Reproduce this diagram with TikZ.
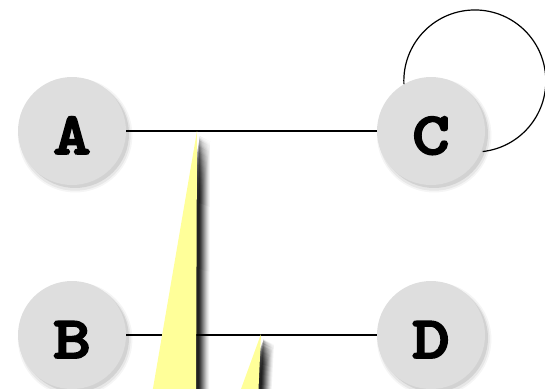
\documentclass[tikz,border=0pt]{standalone}
\usepackage{fontspec}
\newfontfamily\courbold[FakeBold=3,FakeStretch=1.2]{lmmonolt10-bold.otf}
\usetikzlibrary{shadows}
\tikzset{
  vert/.style={circle, minimum size=108pt, inner sep=0pt, fill=nodegray,
    font=\courbold\fontsize{60}{60}\selectfont,
    text height=46pt, text depth=0pt,
    general shadow={fill=black, opacity=0.04, shadow xshift=3pt, shadow yshift=-4pt, shadow scale=1.06},
    general shadow={fill=black, opacity=0.06, shadow xshift=3pt, shadow yshift=-4pt, shadow scale=1.03},
    general shadow={fill=black, opacity=0.09, shadow xshift=3pt, shadow yshift=-3pt}},
  edge/.style={draw=black, line width=1.2pt},
  callout/.style={fill=calloutyellow},
  cshadow/.style={fill=black, opacity=#1}
}
\definecolor{nodegray}{RGB}{222,222,222}
\definecolor{calloutyellow}{RGB}{255,255,153}
\begin{document}
\begin{tikzpicture}[x=1pt,y=-1pt]
\useasboundingbox (0,0) rectangle (545,388);
\coordinate (Apos) at (72,131);
\coordinate (Cpos) at (431,131);
\coordinate (Bpos) at (72,335);
\coordinate (Dpos) at (431,335);
% nodes
\node[vert] (A) at (Apos) {A};
\node[vert] (C) at (Cpos) {C};
\node[vert] (B) at (Bpos) {B};
\node[vert] (D) at (Dpos) {D};
% loop on C
\draw[edge] (C.120) arc[start angle=177.5, end angle=443.7, radius=71];
% edges
\draw[edge] (A) -- (C);
\draw[edge] (B) -- (D);
% callout pointer tips
\coordinate (t1) at (197,131);
\coordinate (t2) at (261,334);
% shadows of pointers
\foreach \dx/\dy/\op in {13/10/0.05, 12/9.5/0.06, 11/9/0.08, 10/8.5/0.1, 9/8/0.12, 8/7.5/0.14, 7/7/0.17, 6/6.5/0.2, 5/6/0.25, 4/5.5/0.3, 3/5/0.35}{
  \fill[cshadow=\op] ([shift={(\dx,\dy)}]t1) -- (196+\dx,400) -- (152+\dx,400) -- cycle;
  \fill[cshadow=\op] ([shift={(\dx,\dy)}]t2) -- (258+\dx,400) -- (237+\dx,400) -- cycle;
}
% pointers
\fill[callout] (t1) -- (196,400) -- (151,400) -- cycle;
\fill[callout] (t2) -- (258,400) -- (237,400) -- cycle;
\end{tikzpicture}
\end{document}
